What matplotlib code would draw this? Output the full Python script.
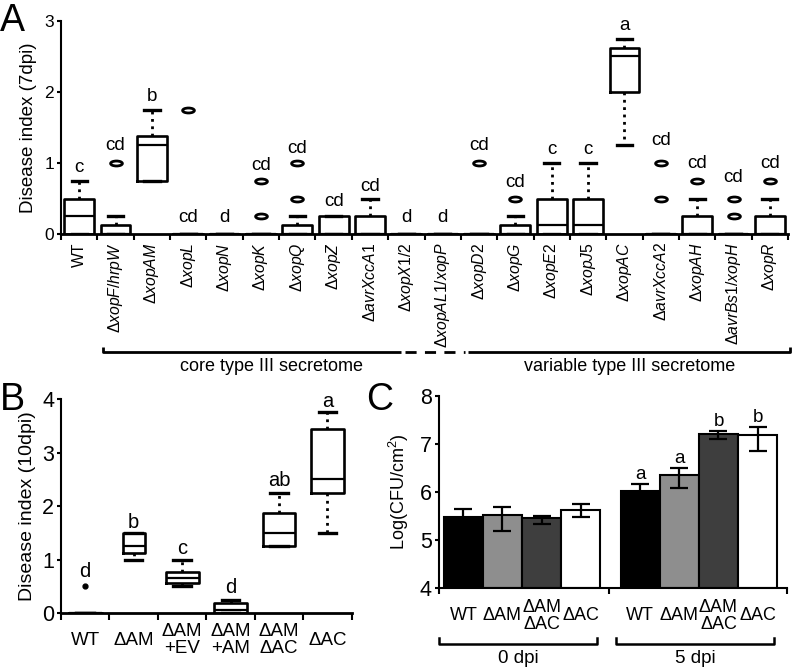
import numpy as np
import matplotlib
matplotlib.use('Agg')
from matplotlib import pyplot as plt
from matplotlib.path import Path
from matplotlib.transforms import Affine2D

plt.rcParams['font.family'] = ['Liberation Sans', 'DejaVu Sans']
plt.rcParams['mathtext.fontset'] = 'custom'
plt.rcParams['mathtext.rm'] = 'Liberation Sans'
plt.rcParams['mathtext.it'] = 'Liberation Sans:italic'

# ---- panel A data (disease index, 7 dpi) ----
a_names = ['WT', 'xopF/hrpW', 'xopAM', 'xopL', 'xopN', 'xopK', 'xopQ', 'xopZ',
           'avrXccA1', 'xopX1/2', 'xopAL1/xopP', 'xopD2', 'xopG', 'xopE2',
           'xopJ5', 'xopAC', 'avrXccA2', 'xopAH', 'avrBs1/xopH', 'xopR']
a_q1 = [0, 0, 0.75, 0, 0, 0, 0, 0, 0, 0, 0, 0, 0, 0, 0, 2.0, 0, 0, 0, 0]
a_med = [0.25, 0, 1.25, 0, 0, 0, 0, 0, 0, 0, 0, 0, 0, 0.125, 0.125, 2.5, 0, 0, 0, 0]
a_q3 = [0.5, 0.125, 1.375, 0, 0, 0, 0.125, 0.25, 0.25, 0, 0, 0, 0.125, 0.5,
        0.5, 2.625, 0, 0.25, 0, 0.25]
a_whislo = [0, 0, 0.75, 0, 0, 0, 0, 0, 0, 0, 0, 0, 0, 0, 0, 1.25, 0, 0, 0, 0]
a_whishi = [0.75, 0.25, 1.75, 0, 0, 0, 0.25, 0.25, 0.5, 0, 0, 0, 0.25, 1.0,
            1.0, 2.75, 0, 0.5, 0, 0.5]
a_fliers = [[], [1.0], [], [1.75], [], [0.25, 0.75], [0.5, 1.0], [], [], [], [],
            [1.0], [0.5], [], [], [], [0.5, 1.0], [0.75], [0.25, 0.5], [0.75]]
a_letters = ['c', 'cd', 'b', 'cd', 'd', 'cd', 'cd', 'cd', 'cd', 'd', 'd', 'cd',
             'cd', 'c', 'c', 'a', 'cd', 'cd', 'cd', 'cd']
a_letter_y = [0.93, 1.24, 1.94, 0.23, 0.23, 0.96, 1.21, 0.46, 0.67, 0.23, 0.23,
              1.24, 0.72, 1.19, 1.19, 2.93, 1.31, 1.0, 0.79, 1.0]

# ---- panel B data (disease index, 10 dpi) ----
b_labels = ['WT', '\u0394AM', '\u0394AM\n+EV', '\u0394AM\n+AM', '\u0394AM\n\u0394AC', '\u0394AC']
b_q1 = [0, 1.125, 0.5625, 0, 1.25, 2.25]
b_med = [0, 1.25, 0.65, 0.06, 1.5, 2.5]
b_q3 = [0, 1.5, 0.76, 0.19, 1.875, 3.44]
b_whislo = [0, 1.0, 0.5, 0, 1.25, 1.5]
b_whishi = [0, 1.5, 1.0, 0.25, 2.25, 3.75]
b_fliers = [[0.5], [], [], [], [], []]
b_letters = ['d', 'b', 'c', 'd', 'ab', 'a']
b_letter_y = [0.78, 1.69, 1.21, 0.47, 2.48, 3.96]

# ---- panel C data (log CFU/cm2) ----
c_groups = ['0 dpi', '5 dpi']
c_strains = ['WT', '\u0394AM', '\u0394AM\n\u0394AC', '\u0394AC']
c_colors = ['black', '#8e8e8e', '#3e3e3e', 'white']
c_mean = [[5.47, 5.53, 5.46, 5.63], [6.03, 6.36, 7.21, 7.18]]
c_hi = [[5.65, 5.68, 5.51, 5.74], [6.17, 6.50, 7.26, 7.36]]
c_lo = [[5.29, 5.18, 5.34, 5.47], [5.89, 6.08, 7.11, 6.86]]
c_letters = [['', '', '', ''], ['a', 'a', 'b', 'b']]


def stats_list(q1, med, q3, lo, hi, fl):
    out = []
    for i in range(len(q1)):
        out.append(dict(q1=q1[i], med=med[i], q3=q3[i], whislo=lo[i],
                        whishi=hi[i], fliers=fl[i]))
    return out


ellipse = Path.unit_circle().transformed(Affine2D().scale(1.0, 0.42))

fig = plt.figure(figsize=(7.92, 6.7), dpi=100)

# ================= A =================
axA = fig.add_axes([0.077, 0.6507, 0.918, 0.318])
posA = np.arange(len(a_names))
axA.bxp(stats_list(a_q1, a_med, a_q3, a_whislo, a_whishi, a_fliers),
        positions=posA, widths=0.82, capwidths=0.42,
        boxprops=dict(color='black', linewidth=1.9),
        medianprops=dict(color='black', linewidth=1.6),
        whiskerprops=dict(color='black', linewidth=2, linestyle=':'),
        capprops=dict(color='black', linewidth=2.4),
        flierprops=dict(marker=ellipse, markersize=8.5, markerfacecolor='white',
                        markeredgecolor='black', markeredgewidth=2))
for i, t in enumerate(a_letters):
    axA.text(posA[i], a_letter_y[i], t, ha='center', va='center', fontsize=13.5)
axA.set_xlim(-0.5, 19.5)
axA.set_ylim(0, 3)
axA.set_yticks([0, 1, 2, 3])
axA.set_xticks(posA)
labsA = ['WT'] + [r'$\Delta\mathit{' + n + '}$' for n in a_names[1:]]
axA.set_xticklabels(labsA, rotation=90, fontsize=11.3)
axA.set_xticks(np.arange(-0.5, 20, 1), minor=True)
axA.tick_params(axis='x', which='major', length=0, pad=6)
axA.tick_params(axis='x', which='minor', length=4, width=1.5, direction='out')
axA.tick_params(axis='y', length=3, width=1.5, labelsize=12.5, pad=2)
for s in ['top', 'right']:
    axA.spines[s].set_visible(False)
axA.spines['left'].set_linewidth(1.5)
axA.spines['bottom'].set_linewidth(2)
axA.set_ylabel('Disease index (7dpi)', fontsize=13.5, labelpad=5)

trA = axA.get_xaxis_transform()
yb = -0.554
axA.plot([0.66, 0.66, 8.85], [yb + 0.025, yb, yb], color='black', lw=2,
         transform=trA, clip_on=False, solid_capstyle='butt')
axA.plot([8.96, 10.62], [yb, yb], color='black', lw=2, linestyle=(0, (4, 3)),
         transform=trA, clip_on=False)
axA.plot([10.7, 19.55, 19.55], [yb, yb, yb + 0.025], color='black', lw=2,
         transform=trA, clip_on=False, solid_capstyle='butt')
axA.text(5.3, -0.624, 'core type III secretome', transform=trA, ha='center',
         va='center', fontsize=13)
axA.text(15.15, -0.624, 'variable type III secretome', transform=trA,
         ha='center', va='center', fontsize=13)

# ================= B =================
axB = fig.add_axes([0.077, 0.085, 0.367, 0.3194])
posB = np.arange(len(b_labels))
axB.bxp(stats_list(b_q1, b_med, b_q3, b_whislo, b_whishi, b_fliers),
        positions=posB, widths=[0.68, 0.46, 0.68, 0.68, 0.68, 0.68],
        capwidths=0.36,
        boxprops=dict(color='black', linewidth=1.9),
        medianprops=dict(color='black', linewidth=1.6),
        whiskerprops=dict(color='black', linewidth=2, linestyle=':'),
        capprops=dict(color='black', linewidth=2.4),
        flierprops=dict(marker='o', markersize=3.5, markerfacecolor='black',
                        markeredgecolor='black'))
for i, t in enumerate(b_letters):
    axB.text(posB[i], b_letter_y[i], t, ha='center', va='center', fontsize=14.5)
axB.set_xlim(-0.5, 5.45)
axB.set_ylim(0, 4)
axB.set_yticks([0, 1, 2, 3, 4])
axB.set_xticks(np.arange(-0.5, 5.6, 1))
axB.set_xticklabels([])
axB.tick_params(axis='x', length=5, width=1.5, direction='out')
axB.tick_params(axis='y', length=3, width=1.5, labelsize=15.5, pad=2)
for s in ['top', 'right']:
    axB.spines[s].set_visible(False)
axB.spines['left'].set_linewidth(1.5)
axB.spines['bottom'].set_linewidth(2)
axB.set_ylabel('Disease index (10dpi)', fontsize=14, labelpad=4)
trB = axB.get_xaxis_transform()
for i, t in enumerate(b_labels):
    axB.text(posB[i], -0.126, t, transform=trB, ha='center', va='center',
             fontsize=13.5, linespacing=1.0)

# ================= C =================
axC = fig.add_axes([0.554, 0.1224, 0.44, 0.2866])
offsets = [0.0, 4.53]
for g in range(len(c_groups)):
    xs = offsets[g] + np.arange(len(c_strains))
    m = np.array(c_mean[g])
    err = [m - np.array(c_lo[g]), np.array(c_hi[g]) - m]
    axC.bar(xs, m - 4, bottom=4, width=1.0, color=c_colors, edgecolor='black',
            linewidth=1.5, zorder=2)
    axC.errorbar(xs, m, yerr=err, fmt='none', ecolor='black', elinewidth=1.6,
                 capsize=6.5, capthick=1.6, zorder=3)
    for i, t in enumerate(c_letters[g]):
        if t:
            axC.text(xs[i], c_hi[g][i] + 0.2, t, ha='center', va='center',
                     fontsize=13.5)
trC = axC.get_xaxis_transform()
for g in range(len(c_groups)):
    xs = offsets[g] + np.arange(len(c_strains))
    for i, t in enumerate(c_strains):
        axC.text(xs[i], -0.145, t, transform=trC, ha='center', va='center',
                 fontsize=13, linespacing=1.0)
    cx = xs.mean() - 0.1
    x0, x1 = cx - 2.03, cx + 2.03
    axC.plot([x0, x0, x1, x1], [-0.26, -0.29, -0.29, -0.26], color='black',
             lw=1.8, transform=trC, clip_on=False)
    axC.text(cx, -0.365, c_groups[g], transform=trC, ha='center', va='center',
             fontsize=13.5)
axC.set_xlim(-0.63, 8.29)
axC.set_ylim(4, 8)
axC.set_yticks([4, 5, 6, 7, 8])
axC.set_xticks([-0.63, 3.73, 8.29])
axC.set_xticklabels([])
axC.tick_params(axis='x', length=4, width=1.5, direction='out')
axC.tick_params(axis='y', length=3, width=1.5, labelsize=15.5, pad=2)
for s in ['top', 'right']:
    axC.spines[s].set_visible(False)
axC.spines['left'].set_linewidth(1.5)
axC.spines['bottom'].set_linewidth(1.5)
axC.set_ylabel('Log(CFU/cm$^2$)', fontsize=13, labelpad=6)

# panel letters
fig.text(0.0, 0.968, 'A', fontsize=27, ha='left', va='center')
fig.text(0.0, 0.403, 'B', fontsize=27, ha='left', va='center')
fig.text(0.462, 0.403, 'C', fontsize=27, ha='left', va='center')

fig.savefig('out.png', dpi=100)
